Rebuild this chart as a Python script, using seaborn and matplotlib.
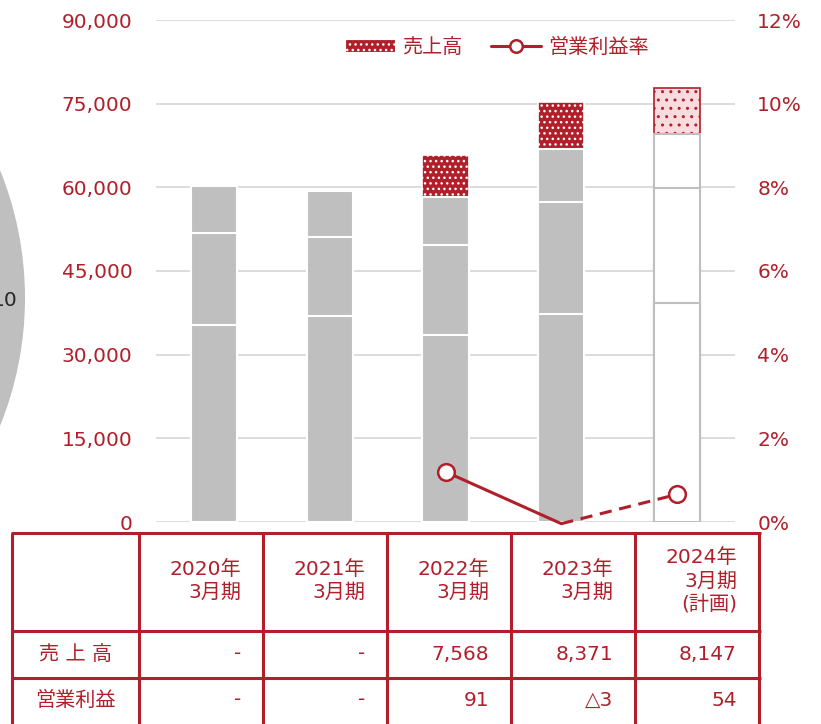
import numpy as np
import pandas as pd
import seaborn as sns
import matplotlib.pyplot as plt
from matplotlib.patches import Patch, Circle
from matplotlib.lines import Line2D
from matplotlib.ticker import FuncFormatter

# values
periods = ['2020年\n3月期', '2021年\n3月期', '2022年\n3月期', '2023年\n3月期', '2024年\n3月期\n(計画)']
seg_low = [35300, 36900, 33500, 37300, 39300]
seg_mid = [16500, 14200, 16200, 20100, 20600]
seg_top = [8400, 8200, 8600, 9500, 9700]
sales_new = [0, 0, 7568, 8371, 8147]
margin = [np.nan, np.nan, 1.20, -0.04, 0.66]
sales_txt = ['-', '-', '7,568', '8,371', '8,147']
op_txt = ['-', '-', '91', '△3', '54']

RED = '#B01F2A'
GRAY = '#BFBFBF'
GRID = '#D9D9D9'

sns.set_style('white')
plt.rcParams['font.family'] = ['DejaVu Sans', 'Noto Sans CJK JP']
plt.rcParams['hatch.linewidth'] = 1.0
FS = 14.5

fig = plt.figure(figsize=(8.21, 7.24), dpi=100)
ax = fig.add_axes([156/821, 1-522/724, (735-156)/821, (522-20)/724])
ax.set_facecolor('none')

df = pd.DataFrame({'period': periods, 'low': seg_low, 'mid': seg_mid,
                   'top': seg_top, 'new': sales_new})
cum = df[['low', 'mid', 'top', 'new']].cumsum(axis=1)

# draw cumulative totals from the tallest down, so each layer shows as a segment
layers = ['new', 'top', 'mid', 'low']
for layer in layers:
    n0 = len(ax.patches)
    sns.barplot(x=df['period'], y=cum[layer], ax=ax, width=0.4, errorbar=None, color=GRAY)
    for i, p in enumerate(ax.patches[n0:]):
        plan = i == 4
        if layer == 'new':
            if plan:
                p.set_facecolor('#F6DCDE')
                p.set_edgecolor(RED)
                p.set_hatch('..')
            else:
                p.set_facecolor(RED)
                p.set_edgecolor('white')
                p.set_hatch('...')
            p.set_linewidth(1.2)
        else:
            p.set_facecolor('white' if plan else GRAY)
            p.set_edgecolor(GRAY if plan else 'white')
            p.set_linewidth(1.5)

ax.set_xlim(-0.5, 4.5)
ax.set_ylim(0, 90000)
ax.set_yticks(np.arange(0, 90001, 15000))
ax.yaxis.set_major_formatter(FuncFormatter(lambda v, _: f'{v:,.0f}'))
ax.grid(axis='y', color=GRID, lw=1.3)
ax.set_axisbelow(True)
ax.set_xlabel('')
ax.set_ylabel('')
ax.tick_params(axis='x', labelbottom=False, length=0)
ax.tick_params(axis='y', length=0, pad=17, labelsize=FS, labelcolor=RED)
sns.despine(ax=ax, left=True, bottom=True)

ax2 = ax.twinx()
ax2.set_ylim(0, 12)
ax2.set_yticks(np.arange(0, 13, 2))
ax2.yaxis.set_major_formatter(FuncFormatter(lambda v, _: f'{v:.0f}%'))
ax2.tick_params(axis='y', length=0, pad=16, labelsize=FS, labelcolor=RED)
for s in ax2.spines.values():
    s.set_visible(False)

xs = np.arange(len(periods))
ax2.plot(xs[2:4], margin[2:4], color=RED, lw=2.2, clip_on=False, solid_capstyle='round')
ax2.plot(xs[3:5], margin[3:5], color=RED, lw=2.2, ls=(0, (4, 2.5)), clip_on=False)
ax2.plot(xs[[2, 4]], [margin[2], margin[4]], ls='none', marker='o', ms=12,
         mfc='white', mec=RED, mew=1.8, clip_on=False)

handles = [Patch(facecolor=RED, edgecolor='white', hatch='...', lw=0.8),
           Line2D([], [], color=RED, lw=2.2, marker='o', ms=9, mfc='white', mec=RED, mew=1.8)]
fig.legend(handles, ['売上高', '営業利益率'], loc='center', bbox_to_anchor=(497/821, 1-47/724),
           ncol=2, frameon=False, fontsize=FS, labelcolor=RED, handlelength=2.5,
           handleheight=0.6, handletextpad=0.35, columnspacing=1.4)

# overlay in pixel units for the table and the neighbouring chart remnant
ov = fig.add_axes([0, 0, 1, 1])
ov.set_xlim(0, 821)
ov.set_ylim(724, 0)
ov.axis('off')
ov.add_patch(Circle((-315, 298), 340, color=GRAY, lw=0))
ov.text(18, 300, '10', ha='right', va='center', fontsize=FS, color='#262626')

col_x = [12, 139, 263, 387, 511, 635, 759]
row_y = [533, 631, 678]
for y in row_y:
    ov.plot([col_x[0] - 1.5, col_x[-1] + 1.5], [y, y], color=RED, lw=2.2, solid_capstyle='butt')
for x in col_x:
    ov.plot([x, x], [row_y[0], 730], color=RED, lw=2.2, solid_capstyle='butt')

ov.text((col_x[0] + col_x[1]) / 2, 654, '売 上 高', ha='center', va='center', fontsize=FS, color=RED)
ov.text((col_x[0] + col_x[1]) / 2, 700, '営業利益', ha='center', va='center', fontsize=FS, color=RED)
for i, lab in enumerate(periods):
    xr = col_x[i + 2] - 22
    ov.text(xr, 581, lab, ha='right', va='center', ma='right', fontsize=FS,
            color=RED, linespacing=1.3)
    ov.text(xr, 654, sales_txt[i], ha='right', va='center', fontsize=FS, color=RED)
    ov.text(xr, 700, op_txt[i], ha='right', va='center', fontsize=FS, color=RED)

fig.savefig('out.png', dpi=100)
